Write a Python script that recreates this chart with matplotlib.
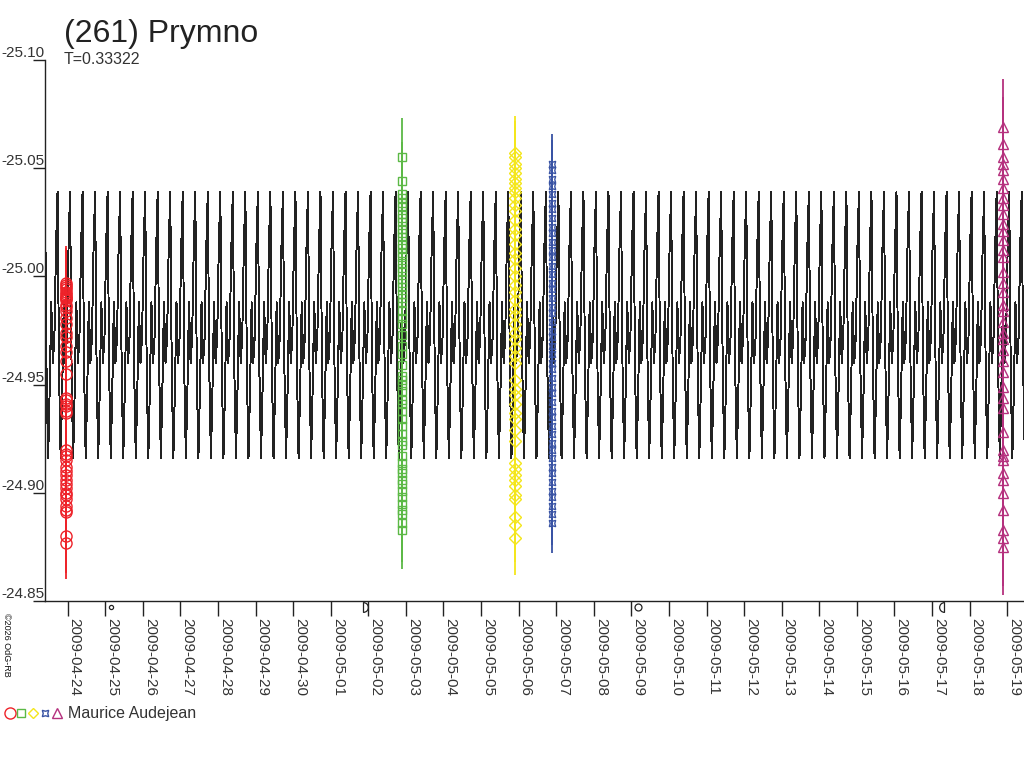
import numpy as np
import matplotlib
matplotlib.use("Agg")
import matplotlib.pyplot as plt
import matplotlib.dates as mdates
from matplotlib.path import Path

plt.rcParams['font.family'] = ['Liberation Sans', 'DejaVu Sans']

# ---------------------------------------------------------------
# data
# ---------------------------------------------------------------
period = 0.33322          # days, "T=" in the header
# one rotation cycle of the model lightcurve, 8 phase steps
cycle_shape = [-25.039, -24.955, -24.916, -24.948, -24.988,
               -24.960, -24.972, -25.012]
curve_start = "2009-04-23T09:30"
curve_end = "2009-05-19T10:45"

# sessions: mean time, magnitudes, error
red_time = "2009-04-23T22:44"
red_mag = [-24.997, -24.996, -24.995, -24.994, -24.993, -24.992, -24.991,
           -24.990, -24.990, -24.989, -24.987, -24.986, -24.984, -24.981,
           -24.978, -24.974, -24.972, -24.968, -24.965, -24.961, -24.955,
           -24.944, -24.943, -24.941, -24.940, -24.938, -24.937, -24.920,
           -24.918, -24.917, -24.915, -24.912, -24.910, -24.908, -24.906,
           -24.904, -24.902, -24.900, -24.899, -24.897, -24.894, -24.892,
           -24.891, -24.880, -24.877]
red_err = 0.017

green_time = "2009-05-02T21:19"
green_mag = [-25.055, -25.044, -25.038, -25.036, -25.034, -25.032, -25.029,
             -25.027, -25.025, -25.022, -25.020, -25.018, -25.015, -25.013,
             -25.011, -25.009, -25.006, -25.004, -25.002, -24.999, -24.997,
             -24.995, -24.992, -24.990, -24.988, -24.984, -24.981, -24.978,
             -24.973, -24.968, -24.964, -24.959, -24.954, -24.952, -24.950,
             -24.947, -24.943, -24.941, -24.938, -24.934, -24.931, -24.927,
             -24.924, -24.922, -24.917, -24.914, -24.911, -24.909, -24.906,
             -24.904, -24.901, -24.898, -24.895, -24.892, -24.890, -24.886,
             -24.883]
green_err = 0.018

yellow_time = "2009-05-05T21:40"
yellow_mag = [-25.057, -25.055, -25.052, -25.050, -25.048, -25.045, -25.043,
              -25.041, -25.039, -25.036, -25.033, -25.030, -25.026, -25.022,
              -25.019, -25.015, -25.011, -25.008, -25.004, -25.000, -24.996,
              -24.993, -24.989, -24.985, -24.982, -24.978, -24.974, -24.971,
              -24.967, -24.963, -24.960, -24.952, -24.948, -24.945, -24.941,
              -24.937, -24.934, -24.929, -24.924, -24.914, -24.911, -24.908,
              -24.906, -24.903, -24.899, -24.897, -24.889, -24.885, -24.879]
yellow_err = 0.017

blue_time = "2009-05-06T21:17"
blue_mag = [-25.052, -25.049, -25.045, -25.042, -25.038, -25.034, -25.031,
            -25.027, -25.023, -25.020, -25.016, -25.012, -25.009, -25.005,
            -25.001, -24.997, -24.994, -24.990, -24.986, -24.983, -24.979,
            -24.975, -24.972, -24.968, -24.964, -24.960, -24.957, -24.953,
            -24.949, -24.946, -24.942, -24.938, -24.935, -24.931, -24.927,
            -24.923, -24.920, -24.916, -24.912, -24.909, -24.905, -24.901,
            -24.898, -24.894, -24.890, -24.886]
blue_err = 0.014

magenta_time = "2009-05-18T21:19"
magenta_mag = [-25.069, -25.061, -25.055, -25.052, -25.049, -25.045, -25.041,
               -25.036, -25.033, -25.029, -25.024, -25.021, -25.017, -25.012,
               -25.009, -25.002, -24.997, -24.993, -24.987, -24.984, -24.979,
               -24.974, -24.971, -24.966, -24.961, -24.956, -24.949, -24.944,
               -24.939, -24.928, -24.920, -24.917, -24.915, -24.909, -24.906,
               -24.900, -24.892, -24.883, -24.879, -24.875]
magenta_err = 0.022

# moon phases (new, first quarter, full, last quarter)
moon_times = ["2009-04-25T03:23", "2009-05-01T20:44",
              "2009-05-09T04:01", "2009-05-17T07:26"]

observer = "Maurice Audejean"
y_ticks = [-25.10, -25.05, -25.00, -24.95, -24.90, -24.85]


def dnum(s):
    return mdates.date2num(np.datetime64(s))


# ---------------------------------------------------------------
fig = plt.figure(figsize=(10.24, 7.68), dpi=100)
ax = fig.add_axes([45/1024, 1-601/768, 979/1024, 541/768])

star = (4, 1, 45)
# time, mags, err, marker, colour, plot size, legend size
sessions = [
    (red_time, red_mag, red_err, "o", "#ee2229", 8.0, 8.0),
    (green_time, green_mag, green_err, "s", "#5cb946", 5.5, 5.5),
    (yellow_time, yellow_mag, yellow_err, "D", "#f4e61c", 6.5, 5.5),
    (blue_time, blue_mag, blue_err, star, "#3953a4", 6.5, 6.5),
    (magenta_time, magenta_mag, magenta_err, "^", "#b5317e", 7.0, 7.0),
]

# model lightcurve, tiled with the rotation period
t0, t1 = dnum(curve_start), dnum(curve_end)
n_cyc = int(np.ceil((t1 - t0) / period))
phase = np.arange(len(cycle_shape)) / len(cycle_shape)
t_curve = t0 + (np.arange(n_cyc)[:, None] + phase[None, :]).ravel() * period
m_curve = np.tile(cycle_shape, n_cyc)
ax.plot(t_curve, m_curve, color="#222222", lw=0.7, antialiased=False, zorder=2)

for t, mags, err, mk, col, ms, _ in sessions:
    x = np.full(len(mags), dnum(t))
    ax.errorbar(x, mags, yerr=err, fmt="none", ecolor=col, elinewidth=1.3,
                capsize=0, zorder=3)
    ax.plot(x, mags, ls="none", marker=mk, ms=ms, mfc="none", mec=col,
            mew=1.0, zorder=3)

# moon phase symbols just under the time axis
moon_marks = [("o", 3, "none"), (Path.wedge(-90, 90), 7, "none"),
              ("o", 5, "none"), (Path.wedge(90, 270), 7, "none")]
trans = ax.get_xaxis_transform()
for mt, (mk, ms, fc) in zip(moon_times, moon_marks):
    ax.plot([dnum(mt)], [-0.011], marker=mk, ms=ms, mfc=fc, mec="#222222",
            mew=0.9, transform=trans, clip_on=False)

ax.set_xlim(t0, t1)
ax.set_ylim(-24.85, -25.10)

for s in ["top", "right"]:
    ax.spines[s].set_visible(False)
for s in ["left", "bottom"]:
    ax.spines[s].set_color("#222222")
    ax.spines[s].set_linewidth(1.0)

ax.set_yticks(y_ticks)
ax.set_yticklabels([f"{v:.2f}" for v in y_ticks])
ax.tick_params(axis="y", direction="out", length=9, pad=-9, width=1,
               colors="#222222", labelsize=11, labelcolor="#333333")
plt.setp(ax.get_yticklabels(), va="bottom")

ax.xaxis.set_major_locator(mdates.DayLocator())
ax.xaxis.set_major_formatter(mdates.DateFormatter("%Y-%m-%d"))
ax.tick_params(axis="x", direction="out", length=11, pad=1, width=1,
               colors="#222222", labelsize=11, labelcolor="#333333")
plt.setp(ax.get_xticklabels(), rotation=270, ha="left", va="top",
         rotation_mode="default")

# header
fig.text(64/1024, 1-42/768, "(261) Prymno", fontsize=23, color="#222222",
         va="baseline")
fig.text(64/1024, 1-64/768, f"T={period:.5f}", fontsize=11.5,
         color="#333333", va="baseline")

# watermark
fig.text(2/1024, 1-613/768, "©2026 OdG-RB", fontsize=6.5, rotation=270,
         ha="left", va="top", color="#111111")

# observer legend
leg_y = 1 - 713/768
for (t, mags, err, mk, col, ms, lms), lx in zip(sessions, [10, 21, 33, 45, 57]):
    fig.lines.append(plt.Line2D([lx/1024], [leg_y], marker=mk, ms=lms,
                                mfc="none", mec=col, mew=1.0, ls="none",
                                transform=fig.transFigure))
fig.text(68/1024, 1-718/768, observer, fontsize=11.5, color="#333333",
         va="baseline")

fig.savefig("out.png", dpi=100)
